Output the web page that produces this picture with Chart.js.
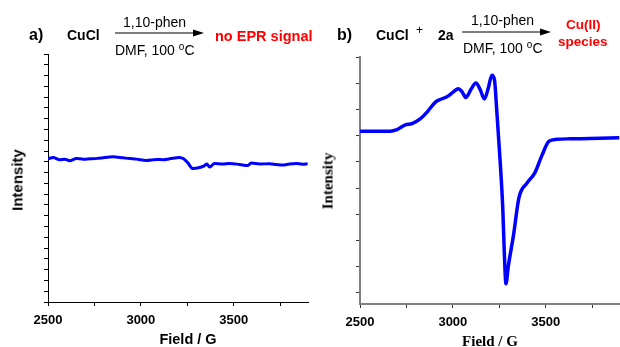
<!DOCTYPE html>
<html>
<head>
<meta charset="utf-8">
<script src="https://cdn.jsdelivr.net/npm/chart.js@4.4.1/dist/chart.umd.min.js"></script>
<style>
  body { margin: 0; background: #fff; }
  #wrap { position: relative; width: 620px; height: 347px; overflow: hidden; font-family: "Liberation Sans", Arial, sans-serif; }
  canvas { position: absolute; top: 0; }
  .t { position: absolute; white-space: nowrap; line-height: 1; transform: translateY(-50%); color: #000; }
  .b { font-weight: bold; }
  .red { color: #ff0000; font-weight: bold; }
  .serif { font-family: "Liberation Serif", "Times New Roman", serif; }
  .rot { transform: translate(-50%, -50%) rotate(-90deg); }
  .ctr { transform: translate(-50%, -50%); }
  sup { font-size: 10px; vertical-align: 5px; line-height: 0; }
</style>
</head>
<body>
<div id="wrap">
  <canvas id="chartA" width="320" height="347" style="left:0"></canvas>
  <canvas id="chartB" width="300" height="347" style="left:320px"></canvas>

  <!-- panel a header -->
  <div class="t b" style="left:29px;top:35px;font-size:16px">a)</div>
  <div class="t b" style="left:67px;top:35px;font-size:14px">CuCl</div>
  <div class="t" style="left:123px;top:22px;font-size:14px">1,10-phen</div>
  <div class="t" style="left:115px;top:50px;font-size:14px">DMF, 100 <sup>o</sup>C</div>
  <div class="t red" style="left:215px;top:36px;font-size:14.5px">no EPR signal</div>

  <!-- panel b header -->
  <div class="t b" style="left:337px;top:35px;font-size:16px">b)</div>
  <div class="t b" style="left:376px;top:35px;font-size:14px">CuCl</div>
  <div class="t" style="left:416px;top:30px;font-size:12px">+</div>
  <div class="t b" style="left:438px;top:35px;font-size:14px">2a</div>
  <div class="t" style="left:471px;top:20px;font-size:14px">1,10-phen</div>
  <div class="t" style="left:463px;top:48px;font-size:14px">DMF, 100 <sup>o</sup>C</div>
  <div class="t red" style="left:566px;top:25px;font-size:13.5px">Cu(II)</div>
  <div class="t red" style="left:558px;top:42px;font-size:13.5px">species</div>

  <svg width="620" height="60" style="position:absolute;left:0;top:0">
    <line x1="115" y1="33" x2="195" y2="33" stroke="#000" stroke-width="1.2"/>
    <polygon points="193,29.5 204,33 193,36.5" fill="#000"/>
    <line x1="462" y1="32" x2="542" y2="32" stroke="#000" stroke-width="1.2"/>
    <polygon points="540,28.5 551,32 540,35.5" fill="#000"/>
  </svg>

  <!-- axis titles -->
  <div class="t b rot" style="left:17px;top:180px;font-size:15px">Intensity</div>
  <div class="t b ctr" style="left:188px;top:339px;font-size:14.5px">Field / G</div>
  <div class="t b rot serif" style="left:328px;top:181px;font-size:15px">Intensity</div>
  <div class="t b ctr serif" style="left:490px;top:341px;font-size:15px">Field / G</div>
</div>

<script>
// x ticks shared by both panels
var fieldTicks = [2500, 2750, 3000, 3250, 3500, 3750];
var fieldLabels = [2500, 3000, 3500];

// panel a: CuCl + phen, flat trace
var fieldA = [2500, 2528, 2563, 2590, 2617, 2653, 2690, 2725, 2765, 2805, 2850, 2904, 2940, 2976, 3029, 3083, 3120, 3155, 3208, 3230, 3253, 3280, 3316, 3343, 3355, 3370, 3397, 3440, 3477, 3531, 3576, 3594, 3639, 3692, 3730, 3764, 3800, 3836, 3870, 3898];
var intA = [13.28, 13.4, 13.2, 13.25, 13.1, 13.3, 13.25, 13.28, 13.32, 13.4, 13.47, 13.37, 13.3, 13.25, 13.13, 13.22, 13.2, 13.28, 13.4, 13.28, 12.9, 12.38, 12.47, 12.65, 12.8, 12.52, 12.85, 12.8, 12.85, 12.76, 12.65, 12.88, 12.8, 12.82, 12.75, 12.7, 12.8, 12.85, 12.78, 12.82];
var yTicksA = [0, 1, 2, 3, 4, 5, 6, 7, 8, 9, 10, 11, 12, 13, 14, 15, 16, 17, 18, 19, 20, 21, 22, 23];

// panel b: CuCl + 2a + phen, Cu(II) spectrum
var fieldB = [2500, 2663, 2699, 2744, 2780, 2824, 2860, 2905, 2932, 2968, 3003, 3030, 3048, 3070, 3097, 3124, 3147, 3170, 3191, 3210, 3224, 3236, 3254, 3269, 3277, 3286, 3299, 3326, 3356, 3398, 3442, 3478, 3518, 3559, 3631, 3738, 3896];
var intB = [6.17, 6.17, 6.23, 6.41, 6.46, 6.64, 6.89, 7.27, 7.38, 7.48, 7.67, 7.79, 7.69, 7.46, 7.76, 8.01, 7.76, 7.40, 7.82, 8.3, 8.14, 7.0, 5.1, 3.19, 1.55, 0.35, 1.04, 2.18, 3.64, 4.18, 4.59, 5.22, 5.79, 5.86, 5.88, 5.89, 5.92];
var yTicksB = [0, 1, 2, 3, 4, 5, 6, 7, 8, 9];

function pts(xs, ys) {
    var out = [];
    for (var i = 0; i < xs.length; i++) out.push({x: xs[i], y: ys[i]});
    return out;
}

function makeChart(id, xs, ys, yMin, yMax, yTicks, o) {
    return new Chart(document.getElementById(id), {
        type: 'line',
        data: {
            datasets: [{
                data: pts(xs, ys),
                borderColor: '#0000ff',
                borderWidth: o.lw,
                pointRadius: 0,
                cubicInterpolationMode: 'monotone',
                fill: false
            }]
        },
        options: {
            responsive: false,
            animation: false,
            devicePixelRatio: 1,
            layout: { padding: o.pad },
            plugins: { legend: { display: false }, tooltip: { enabled: false } },
            scales: {
                x: {
                    type: 'linear',
                    min: 2500,
                    max: 3900,
                    border: { color: o.axisColor, width: o.axisWidth },
                    grid: { drawOnChartArea: false, drawTicks: true, tickLength: 4, tickColor: o.tickColor },
                    ticks: {
                        padding: 7,
                        autoSkip: false,
                        maxRotation: 0,
                        color: '#000',
                        font: { family: 'Liberation Sans, Arial, sans-serif', size: 13, weight: 'bold' },
                        callback: function(v) { return fieldLabels.indexOf(v) >= 0 ? String(v) : ''; }
                    },
                    afterBuildTicks: function(s) { s.ticks = fieldTicks.map(function(v) { return {value: v}; }); },
                    afterFit: function(s) { s.height = o.xh; }
                },
                y: {
                    min: yMin,
                    max: yMax,
                    border: { color: o.axisColor, width: o.axisWidth },
                    grid: { drawOnChartArea: false, drawTicks: true, tickLength: 4, tickColor: o.tickColor },
                    ticks: { display: false, autoSkip: false },
                    afterBuildTicks: function(s) { s.ticks = yTicks.map(function(v) { return {value: v}; }); },
                    afterFit: function(s) { s.width = o.yw; }
                }
            }
        }
    });
}

makeChart('chartA', fieldA, intA, 0, 23, yTicksA, {
    lw: 3, pad: {left: 0, top: 54, right: 12, bottom: 0},
    axisColor: '#000', axisWidth: 1, tickColor: '#000', xh: 45, yw: 48
});
makeChart('chartB', fieldB, intB, -0.42, 9, yTicksB, {
    lw: 3.5, pad: {left: 0, top: 57, right: 0, bottom: 0},
    axisColor: '#808080', axisWidth: 2, tickColor: '#333', xh: 43, yw: 40
});
</script>
</body>
</html>
